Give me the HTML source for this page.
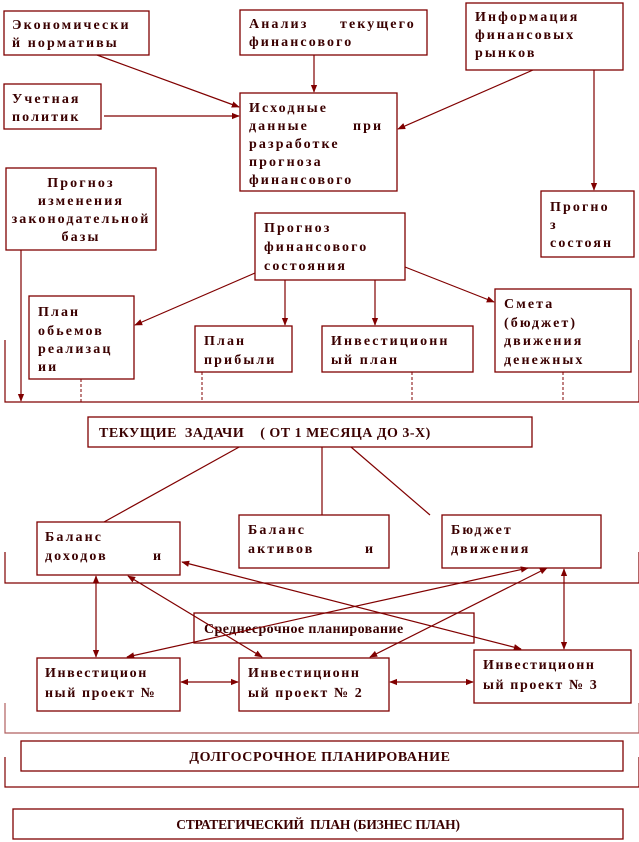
<!DOCTYPE html>
<html><head><meta charset="utf-8"><style>
html,body{margin:0;padding:0;background:#fff;}
svg{display:block;}
text{font-family:"Liberation Serif","DejaVu Serif",serif;font-weight:bold;font-size:14px;fill:#3a0000;letter-spacing:2.1px;white-space:pre;}
.b{fill:#fff;stroke:#800000;stroke-width:1.3;}
.n{fill:none;stroke:#800000;stroke-width:1.3;}
.l{stroke:#800000;stroke-width:1.2;fill:none;}
.d{stroke:#800000;stroke-width:1;stroke-dasharray:3,2;fill:none;}
</style></head><body>
<svg width="639" height="842" viewBox="0 0 639 842" xmlns="http://www.w3.org/2000/svg">
<defs>
<marker id="a" viewBox="0 0 10 10" refX="9" refY="5" markerWidth="8" markerHeight="8" orient="auto-start-reverse" markerUnits="userSpaceOnUse"><path d="M0,1 L10,5 L0,9 z" fill="#800000"/></marker>
</defs>
<path class="l" d="M5,340 V402 H639 V340"/>
<path class="l" d="M5,552 V583 H639 V552"/>
<path class="l" d="M5,703 V733 H639 V703" style="stroke:#b06060"/>
<path class="l" d="M5,757 V787 H639 V757"/>
<path class="d" d="M81,379V402M202,372V402M412,372V402M563,372V402"/>
<line class="l" x1="97" y1="55" x2="239" y2="107" marker-end="url(#a)"/>
<line class="l" x1="104" y1="116" x2="239" y2="116" marker-end="url(#a)"/>
<line class="l" x1="314" y1="55" x2="314" y2="92" marker-end="url(#a)"/>
<line class="l" x1="533" y1="70" x2="398" y2="129" marker-end="url(#a)"/>
<line class="l" x1="594" y1="70" x2="594" y2="190" marker-end="url(#a)"/>
<line class="l" x1="21" y1="250" x2="21" y2="401" marker-end="url(#a)"/>
<line class="l" x1="255" y1="273" x2="135" y2="325" marker-end="url(#a)"/>
<line class="l" x1="285" y1="280" x2="285" y2="325" marker-end="url(#a)"/>
<line class="l" x1="375" y1="280" x2="375" y2="325" marker-end="url(#a)"/>
<line class="l" x1="405" y1="267" x2="494" y2="302" marker-end="url(#a)"/>
<line class="l" x1="250" y1="441" x2="104" y2="522"/>
<line class="l" x1="322" y1="441" x2="322" y2="515"/>
<line class="l" x1="344" y1="441" x2="430" y2="515"/>
<rect class="b" x="4" y="11" width="145" height="44"/>
<text x="12" y="29">Экономически</text><text x="12" y="47">й нормативы</text>
<rect class="b" x="240" y="10" width="187" height="45"/>
<text x="249" y="28">Анализ<tspan x="340">текущего</tspan></text><text x="249" y="46">финансового</text>
<rect class="b" x="466" y="3" width="157" height="67"/>
<text x="475" y="21">Информация</text><text x="475" y="39">финансовых</text><text x="475" y="57">рынков</text>
<rect class="b" x="4" y="84" width="97" height="45"/>
<text x="12" y="103">Учетная</text><text x="12" y="121">политик</text>
<rect class="b" x="240" y="93" width="157" height="98"/>
<text x="249" y="112">Исходные</text><text x="249" y="130">данные<tspan x="353">при</tspan></text><text x="249" y="148">разработке</text><text x="249" y="166">прогноза</text><text x="249" y="184">финансового</text>
<rect class="b" x="6" y="168" width="150" height="82"/>
<g style="letter-spacing:-0.3px;font-size:13px"><text x="81" y="187" text-anchor="middle">Прогноз</text><text x="81" y="205" text-anchor="middle">изменения</text><text x="81" y="223" text-anchor="middle">законодательной</text><text x="81" y="241" text-anchor="middle">базы</text></g>
<rect class="b" x="541" y="191" width="93" height="66"/>
<text x="550" y="211">Прогно</text><text x="550" y="229">з</text><text x="550" y="247">состоян</text>
<rect class="b" x="255" y="213" width="150" height="67"/>
<text x="264" y="232">Прогноз</text><text x="264" y="251">финансового</text><text x="264" y="270">состояния</text>
<rect class="b" x="29" y="296" width="105" height="83"/>
<text x="38" y="316">План</text><text x="38" y="335">обьемов</text><text x="38" y="353">реализац</text><text x="38" y="371">ии</text>
<rect class="b" x="195" y="326" width="97" height="46"/>
<text x="204" y="345">План</text><text x="204" y="364">прибыли</text>
<rect class="b" x="322" y="326" width="151" height="46"/>
<text x="331" y="345">Инвестиционн</text><text x="331" y="364">ый план</text>
<rect class="b" x="495" y="289" width="136" height="83"/>
<text x="504" y="308">Смета</text><text x="504" y="327">(бюджет)</text><text x="504" y="345">движения</text><text x="504" y="364">денежных</text>
<rect class="b" x="88" y="417" width="444" height="30"/>
<text x="99" y="437" style="letter-spacing:0.5px">ТЕКУЩИЕ  ЗАДАЧИ    ( ОТ 1 МЕСЯЦА ДО 3-Х)</text>
<rect class="b" x="37" y="522" width="143" height="53"/>
<text x="45" y="541">Баланс</text><text x="45" y="560">доходов<tspan x="153">и</tspan></text>
<rect class="b" x="239" y="515" width="150" height="53"/>
<text x="248" y="534">Баланс</text><text x="248" y="553">активов<tspan x="365">и</tspan></text>
<rect class="b" x="442" y="515" width="159" height="53"/>
<text x="451" y="534">Бюджет</text><text x="451" y="553">движения</text>
<rect class="n" x="194" y="613" width="280" height="30"/>
<text x="204" y="633" style="letter-spacing:0.4px">Среднесрочное планирование</text>
<line class="l" x1="96" y1="576" x2="96" y2="657" marker-start="url(#a)" marker-end="url(#a)"/>
<line class="l" x1="128" y1="576" x2="262" y2="657" marker-start="url(#a)" marker-end="url(#a)"/>
<line class="l" x1="182" y1="562" x2="521" y2="649" marker-start="url(#a)" marker-end="url(#a)"/>
<line class="l" x1="528" y1="568" x2="127" y2="657" marker-start="url(#a)" marker-end="url(#a)"/>
<line class="l" x1="547" y1="568" x2="370" y2="657" marker-start="url(#a)" marker-end="url(#a)"/>
<line class="l" x1="564" y1="569" x2="564" y2="649" marker-start="url(#a)" marker-end="url(#a)"/>
<line class="l" x1="181" y1="682" x2="238" y2="682" marker-start="url(#a)" marker-end="url(#a)"/>
<line class="l" x1="390" y1="682" x2="473" y2="682" marker-start="url(#a)" marker-end="url(#a)"/>
<rect class="b" x="37" y="658" width="143" height="53"/>
<text x="45" y="677" style="letter-spacing:1.6px">Инвестицион</text><text x="45" y="697" style="letter-spacing:1.6px">ный проект №</text>
<rect class="b" x="239" y="658" width="150" height="53"/>
<text x="248" y="677" style="letter-spacing:1.6px">Инвестиционн</text><text x="248" y="697" style="letter-spacing:1.6px">ый проект № 2</text>
<rect class="b" x="474" y="650" width="157" height="53"/>
<text x="483" y="669" style="letter-spacing:1.6px">Инвестиционн</text><text x="483" y="689" style="letter-spacing:1.6px">ый проект № 3</text>
<rect class="b" x="21" y="741" width="602" height="30"/>
<text x="320" y="761" text-anchor="middle" style="letter-spacing:0.6px">ДОЛГОСРОЧНОЕ ПЛАНИРОВАНИЕ</text>
<rect class="b" x="13" y="809" width="610" height="30"/>
<text x="318" y="829" text-anchor="middle" style="letter-spacing:-0.2px;font-size:13.5px">СТРАТЕГИЧЕСКИЙ  ПЛАН (БИЗНЕС ПЛАН)</text>
</svg>
</body></html>
